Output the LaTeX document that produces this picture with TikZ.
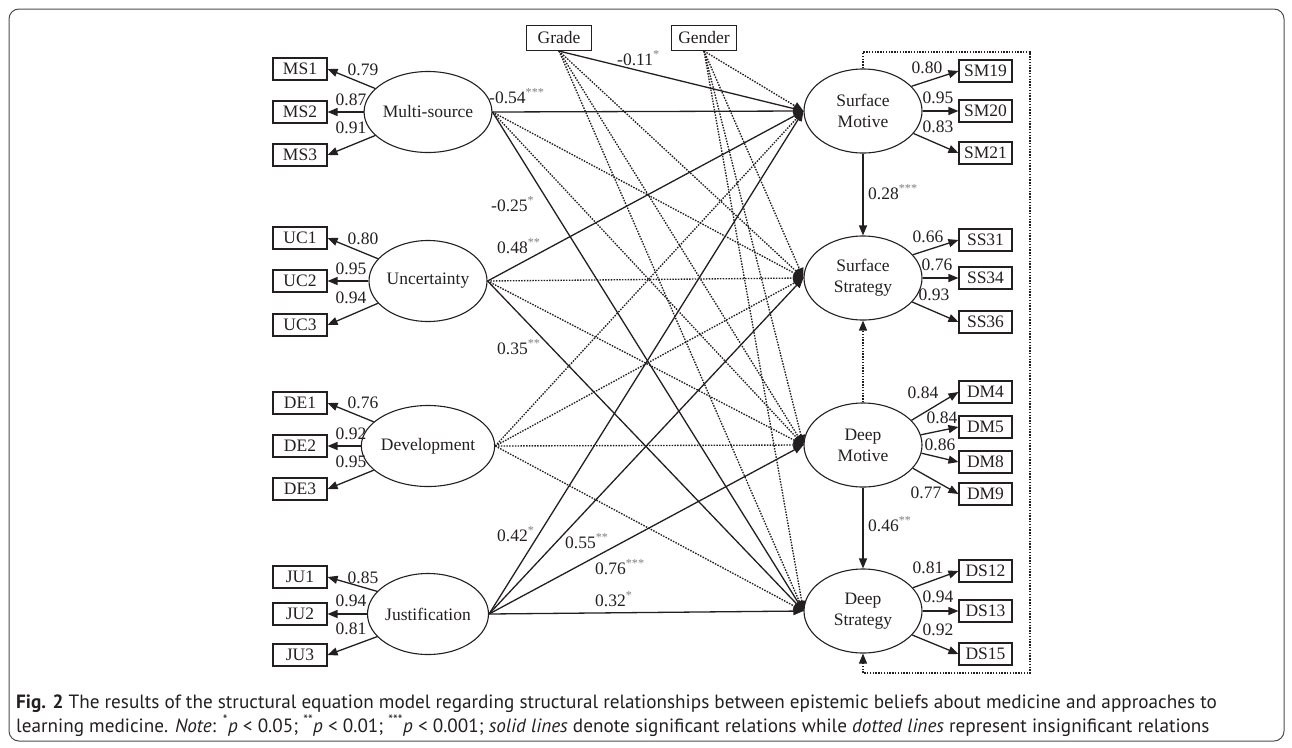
\documentclass[tikz,border=0pt]{standalone}
\usepackage{fontspec}
\setmainfont{Liberation Serif}
\newfontfamily\capfont{PT Sans}
\usetikzlibrary{shapes.geometric,arrows.meta}
\definecolor{ink}{HTML}{231F20}
\definecolor{stargray}{HTML}{808080}
\newcommand{\sg}[1]{\textsuperscript{\textcolor{stargray}{#1}}}
\tikzset{
  every node/.style={text=ink, font=\fontsize{17.5}{21}\selectfont},
  lat/.style={ellipse, draw=ink, line width=1.1pt, minimum width=118pt, minimum height=81pt, inner sep=0pt, align=center},
  latr/.style={lat, minimum height=84pt},
  ind/.style={rectangle, draw=ink, line width=1.1pt, minimum width=54pt, minimum height=22pt, inner sep=0pt},
  cov/.style={rectangle, draw=ink, line width=1.1pt, minimum width=65pt, minimum height=25pt, inner sep=0pt},
  lab/.style={inner sep=0pt},
  capt/.style={inner sep=0pt, font=\capfont\fontsize{19.2}{24}\selectfont},
  sig/.style={draw=ink, line width=1.3pt, -{Triangle[length=10pt,width=8pt]}},
  ns/.style={draw=ink, line width=1.35pt, dash pattern=on 1.5pt off 1.3pt, -{Triangle[length=10pt,width=8pt]}},
}
\begin{document}
\begin{tikzpicture}[x=1pt,y=-1pt]
\useasboundingbox (0,0) rectangle (1292,747);
\draw[ink!80, line width=1pt, rounded corners=10pt] (9,9) rectangle (1284,741);

% left latent variables
\node[lat] (MS) at (428,112) {Multi-source};
\node[lat] (UC) at (428,281) {Uncertainty};
\node[lat] (DE) at (428,446) {Development};
\node[lat] (JU) at (428,614) {Justification};

% right latent variables
\node[latr] (SM) at (863,111) {Surface\\Motive};
\node[latr] (SS) at (863,278) {Surface\\Strategy};
\node[latr] (DM) at (863,445) {Deep\\Motive};
\node[latr] (DS) at (863,611) {Deep\\Strategy};

% covariates
\node[cov] (GR) at (559,38) {Grade};
\node[cov] (GE) at (704,38) {Gender};

% left indicators
\node[ind] (MS1) at (300,69) {MS1};
\node[ind] (MS2) at (300,112) {MS2};
\node[ind] (MS3) at (300,155) {MS3};
\node[ind] (UC1) at (300,238) {UC1};
\node[ind] (UC2) at (300,281) {UC2};
\node[ind] (UC3) at (300,325) {UC3};
\node[ind] (DE1) at (300,403) {DE1};
\node[ind] (DE2) at (300,446) {DE2};
\node[ind] (DE3) at (300,489) {DE3};
\node[ind] (JU1) at (300,577) {JU1};
\node[ind] (JU2) at (300,614) {JU2};
\node[ind] (JU3) at (300,655) {JU3};

% right indicators
\node[ind, minimum width=53pt] (SM19) at (985.5,71) {SM19};
\node[ind, minimum width=53pt] (SM20) at (985.5,111) {SM20};
\node[ind, minimum width=53pt] (SM21) at (985.5,153) {SM21};
\node[ind, minimum width=53pt] (SS31) at (985.5,240) {SS31};
\node[ind, minimum width=53pt] (SS34) at (985.5,278) {SS34};
\node[ind, minimum width=53pt] (SS36) at (985.5,322) {SS36};
\node[ind, minimum width=53pt] (DM4) at (985.5,392) {DM4};
\node[ind, minimum width=53pt] (DM5) at (985.5,427) {DM5};
\node[ind, minimum width=53pt] (DM8) at (985.5,462) {DM8};
\node[ind, minimum width=53pt] (DM9) at (985.5,494) {DM9};
\node[ind, minimum width=53pt] (DS12) at (985.5,571) {DS12};
\node[ind, minimum width=53pt] (DS13) at (985.5,611) {DS13};
\node[ind, minimum width=53pt] (DS15) at (985.5,654) {DS15};

% measurement arrows, left
\foreach \L/\a/\b/\c in {MS/MS1/MS2/MS3, UC/UC1/UC2/UC3, DE/DE1/DE2/DE3, JU/JU1/JU2/JU3}{
  \draw[sig] (\L.156) -- (\a.east);
  \draw[sig] (\L.west) -- (\b.east);
  \draw[sig] (\L.204) -- (\c.east);
}
% measurement arrows, right
\draw[sig] (SM.27) -- (SM19.west);
\draw[sig] (SM.east) -- (SM20.west);
\draw[sig] (SM.-24) -- (SM21.west);
\draw[sig] (SS.25) -- (SS31.west);
\draw[sig] (SS.east) -- (SS34.west);
\draw[sig] (SS.-26) -- (SS36.west);
\draw[sig] (DM.27) -- (DM4.west);
\draw[sig] (DM.10) -- (DM5.west);
\draw[sig] (DM.-8) -- (DM8.west);
\draw[sig] (DM.-25) -- (DM9.west);
\draw[sig] (DS.25) -- (DS12.west);
\draw[sig] (DS.east) -- (DS13.west);
\draw[sig] (DS.-26) -- (DS15.west);

% loadings, left
\node[lab] (lMS1) at (363,70) {0.79};
\node[lab] (lMS2) at (351,100) {0.87};
\node[lab] (lMS3) at (351,128) {0.91};
\node[lab] (lUC1) at (363,239) {0.80};
\node[lab] (lUC2) at (351,269) {0.95};
\node[lab] (lUC3) at (351,298) {0.94};
\node[lab] (lDE1) at (363,403) {0.76};
\node[lab] (lDE2) at (351,434) {0.92};
\node[lab] (lDE3) at (351,462) {0.95};
\node[lab] (lJU1) at (363,578) {0.85};
\node[lab] (lJU2) at (351,601) {0.94};
\node[lab] (lJU3) at (351,629) {0.81};
% loadings, right
\node[lab] (lSM19) at (927,68) {0.80};
\node[lab] (lSM20) at (938,98) {0.95};
\node[lab] (lSM21) at (938,127) {0.83};
\node[lab] (lSS31) at (928,237) {0.66};
\node[lab] (lSS34) at (937,265) {0.76};
\node[lab] (lSS36) at (934,295) {0.93};
\node[lab] (lDM4) at (923,393) {0.84};
\node[lab] (lDM5) at (942,418) {0.84};
\node[lab] (lDM8) at (940,445) {0.86};
\node[lab] (lDM9) at (926,493) {0.77};
\node[lab] (lDS12) at (928,568) {0.81};
\node[lab] (lDS13) at (938,597) {0.94};
\node[lab] (lDS15) at (938,630) {0.92};

% structural paths: insignificant (dotted)
\foreach \s/\t in {MS/SS, MS/DM, UC/SS, UC/DM, DE/SM, DE/SS, DE/DM, DE/DS}{
  \draw[ns] (\s.east) -- (\t.west);
}
\foreach \t in {SS, DM, DS}{ \draw[ns] (GR.south) -- (\t.west); }
\foreach \t in {SM, SS, DM, DS}{ \draw[ns] (GE.south) -- (\t.west); }
\draw[ns] (DM.north) -- (SS.south);
\coordinate (fbTR) at (1030,52);
\coordinate (fbBR) at (1030,673);
\draw[ns, line width=1.1pt] (SM.north) |- (fbTR) -- (fbBR) -| (DS.south);

% structural paths: significant (solid)
\foreach \s/\t in {MS/SM, MS/DS, UC/SM, UC/DS, JU/SM, JU/SS, JU/DM, JU/DS}{
  \draw[sig] (\s.east) -- (\t.west);
}
\draw[sig] (GR.south) -- (SM.west);
\draw[sig] (SM.south) -- (SS.north);
\draw[sig] (DM.south) -- (DS.north);

% path coefficients
\node[lab, anchor=base west] (cMSSM) at (489,103) {-0.54\sg{***}};
\node[lab, anchor=base west] (cMSDS) at (491,211) {-0.25\sg{*}};
\node[lab, anchor=base west] (cUCSM) at (497,253) {0.48\sg{**}};
\node[lab, anchor=base west] (cUCDS) at (497,354) {0.35\sg{**}};
\node[lab, anchor=base west] (cJUSM) at (497,541) {0.42\sg{*}};
\node[lab, anchor=base west] (cJUSS) at (565,548) {0.55\sg{**}};
\node[lab, anchor=base west] (cJUDM) at (595,574) {0.76\sg{***}};
\node[lab, anchor=base west] (cJUDS) at (595,606) {0.32\sg{*}};
\node[lab, anchor=base west] (cGRSM) at (617,65) {-0.11\sg{*}};
\node[lab, anchor=base west] (cSMSS) at (868,199) {0.28\sg{***}};
\node[lab, anchor=base west] (cDMDS) at (868,531) {0.46\sg{**}};

% caption
\node[capt, anchor=base west] (cap1) at (16,708)
  {\textbf{Fig. 2} The results of the structural equation model regarding structural relationships between epistemic beliefs about medicine and approaches to};
\node[capt, anchor=base west] (cap2) at (16,732)
  {learning medicine. \textit{Note}: \textsuperscript{*}\textit{p} < 0.05; \textsuperscript{**}\textit{p} < 0.01; \textsuperscript{***}\textit{p} < 0.001; \textit{solid lines} denote significant relations while \textit{dotted lines} represent insignificant relations};
\end{tikzpicture}
\end{document}
